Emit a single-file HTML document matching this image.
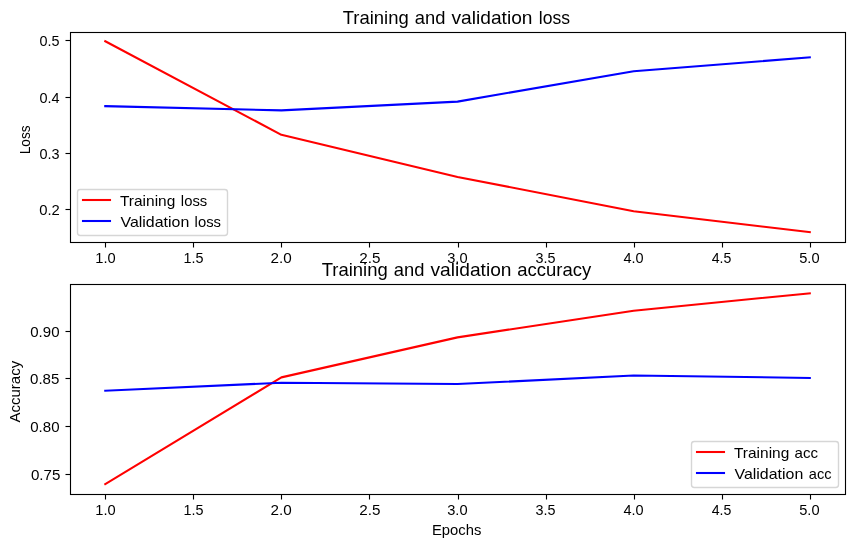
<!DOCTYPE html>
<!-- : matplotlib line charts (training/validation loss and accuracy) -->
<html lang="en">
<head>
<meta charset="utf-8">
<title>Training and validation loss / accuracy</title>
<style>
html,body{margin:0;padding:0;background:#ffffff;}
body{width:855px;height:547px;overflow:hidden;}
svg{display:block;}
text{font-family:"Liberation Sans",sans-serif;fill:#000000;}
.spine{fill:none;stroke:#000000;stroke-width:1.11;}
.tick{fill:#000000;stroke:none;}
.ln{fill:none;stroke-width:2.083;stroke-linecap:square;stroke-linejoin:round;}
.legbox{fill:#ffffff;stroke:#d6d6d6;stroke-width:1.39;}
</style>
</head>
<body>
<svg width="855" height="547" viewBox="0 0 855 547">
<rect x="0" y="0" width="855" height="547" fill="#ffffff"/>
<g id="axes0">
<polyline class="ln" stroke="#ff0000" points="105.26,41.27 281.39,134.81 457.53,176.91 633.66,211.21 809.80,232.18"/>
<polyline class="ln" stroke="#0000ff" points="105.26,106.11 281.39,110.41 457.53,101.61 633.66,71.21 809.80,57.41"/>
<rect class="tick" x="104.945" y="242.5" width="1.11" height="5"/><rect class="tick" x="192.945" y="242.5" width="1.11" height="5"/><rect class="tick" x="280.945" y="242.5" width="1.11" height="5"/><rect class="tick" x="368.945" y="242.5" width="1.11" height="5"/><rect class="tick" x="457.945" y="242.5" width="1.11" height="5"/><rect class="tick" x="545.945" y="242.5" width="1.11" height="5"/><rect class="tick" x="633.945" y="242.5" width="1.11" height="5"/><rect class="tick" x="721.945" y="242.5" width="1.11" height="5"/><rect class="tick" x="809.945" y="242.5" width="1.11" height="5"/>
<rect class="tick" x="65.5" y="39.945" width="5" height="1.11"/><rect class="tick" x="65.5" y="96.945" width="5" height="1.11"/><rect class="tick" x="65.5" y="152.945" width="5" height="1.11"/><rect class="tick" x="65.5" y="208.945" width="5" height="1.11"/>
<rect class="spine" x="70.5" y="32.5" width="775.0" height="210.0"/>
<rect class="legbox" x="77.5" y="189.5" width="150.0" height="46.0" rx="2.78" ry="2.78"/>
<line class="ln" stroke="#ff0000" x1="83" y1="200" x2="110" y2="200"/>
<line class="ln" stroke="#0000ff" x1="83" y1="221" x2="110" y2="221"/>
</g>
<g id="axes1">
<polyline class="ln" stroke="#ff0000" points="105.26,484.18 281.39,377.39 457.53,337.37 633.66,310.70 809.80,293.27"/>
<polyline class="ln" stroke="#0000ff" points="105.26,390.72 281.39,382.72 457.53,384.05 633.66,375.48 809.80,377.96"/>
<rect class="tick" x="104.945" y="494.5" width="1.11" height="5"/><rect class="tick" x="192.945" y="494.5" width="1.11" height="5"/><rect class="tick" x="280.945" y="494.5" width="1.11" height="5"/><rect class="tick" x="368.945" y="494.5" width="1.11" height="5"/><rect class="tick" x="457.945" y="494.5" width="1.11" height="5"/><rect class="tick" x="545.945" y="494.5" width="1.11" height="5"/><rect class="tick" x="633.945" y="494.5" width="1.11" height="5"/><rect class="tick" x="721.945" y="494.5" width="1.11" height="5"/><rect class="tick" x="809.945" y="494.5" width="1.11" height="5"/>
<rect class="tick" x="65.5" y="330.945" width="5" height="1.11"/><rect class="tick" x="65.5" y="377.945" width="5" height="1.11"/><rect class="tick" x="65.5" y="425.945" width="5" height="1.11"/><rect class="tick" x="65.5" y="473.945" width="5" height="1.11"/>
<rect class="spine" x="70.5" y="284.5" width="775.0" height="210.0"/>
<rect class="legbox" x="691.5" y="441.5" width="147.0" height="46.0" rx="2.78" ry="2.78"/>
<line class="ln" stroke="#ff0000" x1="697" y1="452" x2="724" y2="452"/>
<line class="ln" stroke="#0000ff" x1="697" y1="473" x2="724" y2="473"/>
</g>
<defs><filter id="gray" x="0" y="0" width="855" height="547" filterUnits="userSpaceOnUse" color-interpolation-filters="sRGB"><feColorMatrix type="saturate" values="0"/></filter></defs>
<g id="labels" filter="url(#gray)">
<text font-size="18.4"><tspan x="342.75" y="24" textLength="66.00" lengthAdjust="spacingAndGlyphs">Training</tspan> <tspan x="414.75" y="24" textLength="30.63" lengthAdjust="spacingAndGlyphs">and</tspan> <tspan x="451.50" y="24" textLength="81.00" lengthAdjust="spacingAndGlyphs">validation</tspan> <tspan x="538.87" y="24" textLength="31.26" lengthAdjust="spacingAndGlyphs">loss</tspan></text>
<text font-size="18.4"><tspan x="321.75" y="276" textLength="66.00" lengthAdjust="spacingAndGlyphs">Training</tspan> <tspan x="393.75" y="276" textLength="30.63" lengthAdjust="spacingAndGlyphs">and</tspan> <tspan x="430.50" y="276" textLength="81.00" lengthAdjust="spacingAndGlyphs">validation</tspan> <tspan x="517.25" y="276" textLength="73.88" lengthAdjust="spacingAndGlyphs">accuracy</tspan></text>
<text font-size="14.6"><tspan x="120.00" y="206" textLength="55.25" lengthAdjust="spacingAndGlyphs">Training</tspan> <tspan x="180.87" y="206" textLength="26.37" lengthAdjust="spacingAndGlyphs">loss</tspan></text>
<text font-size="14.6"><tspan x="120.50" y="227" textLength="68.75" lengthAdjust="spacingAndGlyphs">Validation</tspan> <tspan x="194.62" y="227" textLength="26.38" lengthAdjust="spacingAndGlyphs">loss</tspan></text>
<text font-size="14.6"><tspan x="734.00" y="458" textLength="55.25" lengthAdjust="spacingAndGlyphs">Training</tspan> <tspan x="794.50" y="458" textLength="23.50" lengthAdjust="spacingAndGlyphs">acc</tspan></text>
<text font-size="14.6"><tspan x="734.50" y="479" textLength="68.75" lengthAdjust="spacingAndGlyphs">Validation</tspan> <tspan x="808.75" y="479" textLength="22.75" lengthAdjust="spacingAndGlyphs">acc</tspan></text>
<text transform="translate(30.00 154.30) rotate(-90)" font-size="14.6" textLength="28.83" lengthAdjust="spacingAndGlyphs">Loss</text>
<text transform="translate(20.00 422.50) rotate(-90)" font-size="14.6" textLength="61.63" lengthAdjust="spacingAndGlyphs">Accuracy</text>
<text x="431.95" y="535" font-size="14.6" textLength="49.40" lengthAdjust="spacingAndGlyphs">Epochs</text>
<text x="39.50" y="46" font-size="14.6" textLength="20.00" lengthAdjust="spacingAndGlyphs">0.5</text>
<text x="39.50" y="103" font-size="14.6" textLength="20.12" lengthAdjust="spacingAndGlyphs">0.4</text>
<text x="39.50" y="159" font-size="14.6" textLength="20.12" lengthAdjust="spacingAndGlyphs">0.3</text>
<text x="39.25" y="215" font-size="14.6" textLength="20.62" lengthAdjust="spacingAndGlyphs">0.2</text>
<text x="30.25" y="337" font-size="14.6" textLength="29.25" lengthAdjust="spacingAndGlyphs">0.90</text>
<text x="30.00" y="384" font-size="14.6" textLength="29.33" lengthAdjust="spacingAndGlyphs">0.85</text>
<text x="30.25" y="432" font-size="14.6" textLength="29.25" lengthAdjust="spacingAndGlyphs">0.80</text>
<text x="30.92" y="480" font-size="14.6" textLength="29.46" lengthAdjust="spacingAndGlyphs">0.75</text>
<text x="95.33" y="263" font-size="14.6" textLength="20.37" lengthAdjust="spacingAndGlyphs">1.0</text>
<text x="183.45" y="263" font-size="14.6" textLength="20.00" lengthAdjust="spacingAndGlyphs">1.5</text>
<text x="270.45" y="263" font-size="14.6" textLength="21.19" lengthAdjust="spacingAndGlyphs">2.0</text>
<text x="359.20" y="263" font-size="14.6" textLength="21.19" lengthAdjust="spacingAndGlyphs">2.5</text>
<text x="447.20" y="263" font-size="14.6" textLength="20.36" lengthAdjust="spacingAndGlyphs">3.0</text>
<text x="535.45" y="263" font-size="14.6" textLength="19.98" lengthAdjust="spacingAndGlyphs">3.5</text>
<text x="623.50" y="263" font-size="14.6" textLength="20.13" lengthAdjust="spacingAndGlyphs">4.0</text>
<text x="711.75" y="263" font-size="14.6" textLength="19.62" lengthAdjust="spacingAndGlyphs">4.5</text>
<text x="799.20" y="263" font-size="14.6" textLength="20.36" lengthAdjust="spacingAndGlyphs">5.0</text>
<text x="95.33" y="515" font-size="14.6" textLength="20.37" lengthAdjust="spacingAndGlyphs">1.0</text>
<text x="183.45" y="515" font-size="14.6" textLength="20.00" lengthAdjust="spacingAndGlyphs">1.5</text>
<text x="270.45" y="515" font-size="14.6" textLength="21.19" lengthAdjust="spacingAndGlyphs">2.0</text>
<text x="359.20" y="515" font-size="14.6" textLength="21.19" lengthAdjust="spacingAndGlyphs">2.5</text>
<text x="447.20" y="515" font-size="14.6" textLength="20.36" lengthAdjust="spacingAndGlyphs">3.0</text>
<text x="535.45" y="515" font-size="14.6" textLength="19.98" lengthAdjust="spacingAndGlyphs">3.5</text>
<text x="623.50" y="515" font-size="14.6" textLength="20.13" lengthAdjust="spacingAndGlyphs">4.0</text>
<text x="711.75" y="515" font-size="14.6" textLength="19.62" lengthAdjust="spacingAndGlyphs">4.5</text>
<text x="799.20" y="515" font-size="14.6" textLength="20.36" lengthAdjust="spacingAndGlyphs">5.0</text>
</g>
</svg>
</body>
</html>
